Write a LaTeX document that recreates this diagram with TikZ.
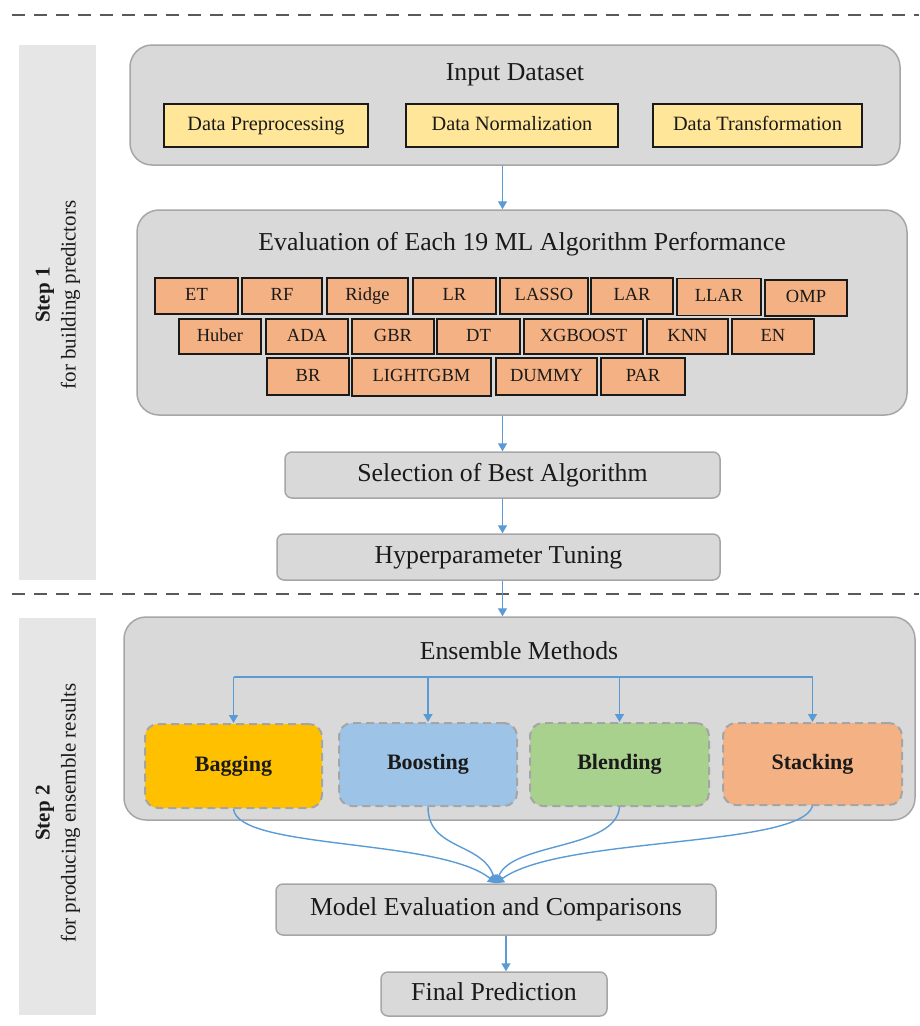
\documentclass[tikz,border=0pt]{standalone}
\usepackage{fontspec}
\setmainfont{Liberation Serif}
\usetikzlibrary{arrows.meta}
\definecolor{band}{HTML}{E7E6E6}
\definecolor{panel}{HTML}{D9D9D9}
\definecolor{panelborder}{HTML}{A6A6A6}
\definecolor{yel}{HTML}{FFE699}
\definecolor{algc}{HTML}{F4B183}
\definecolor{arrc}{HTML}{5B9BD5}
\definecolor{sep}{HTML}{595959}
\definecolor{ink}{HTML}{1A1A1A}
\definecolor{bagc}{HTML}{FFC000}
\definecolor{boostc}{HTML}{9DC3E6}
\definecolor{blendc}{HTML}{A9D18E}
\definecolor{stackc}{HTML}{F4B183}
\definecolor{dashb}{HTML}{A5A5A5}
\tikzset{
  panelbox/.style={draw=panelborder, fill=panel, line width=1.5pt, rounded corners=22pt, inner sep=0pt},
  flowbox/.style={draw=panelborder, fill=panel, line width=1.5pt, rounded corners=7pt, inner sep=0pt, text=ink, font=\fontsize{25.8}{29}\selectfont, text height=17pt, text depth=5pt},
  yelbox/.style={draw=ink, fill=yel, line width=1.3pt, inner sep=0pt, minimum height=43pt, text=ink, font=\fontsize{20.3}{23}\selectfont, text height=13.5pt, text depth=4pt},
  algbox/.style={draw=ink, fill=algc, line width=1.3pt, inner sep=0pt, text=ink, font=\fontsize{18.5}{21}\selectfont, text height=12.5pt, text depth=3.5pt},
  ensbox/.style={draw=dashb, line width=2pt, dash pattern=on 8pt off 5pt, rounded corners=13pt, inner sep=0pt, minimum height=83pt, text=ink, font=\fontsize{22}{25}\selectfont\bfseries, text height=15pt, text depth=4.5pt},
  title/.style={text=ink, font=\fontsize{25.8}{29}\selectfont, inner sep=0pt},
  arr/.style={draw=arrc, line width=1.4pt, -{Triangle[width=9pt,length=8pt]}},
  conn/.style={draw=arrc, line width=1.4pt},
  sepline/.style={draw=sep, line width=2.6pt, dash pattern=on 13pt off 9pt},
  bandbox/.style={fill=band, draw=none},
  steplabel/.style={rotate=90, align=center, text=ink, font=\fontsize{21}{26}\selectfont, inner sep=0pt}
}
\begin{document}
\begin{tikzpicture}[x=1pt,y=-1pt]
\useasboundingbox (0,0) rectangle (919,1026);
% separators and bands
\coordinate (sepA) at (12,15);
\coordinate (sepAend) at (919,15);
\coordinate (sepB) at (12,594);
\coordinate (sepBend) at (919,594);
\fill[bandbox] (19,45) rectangle (96,580);
\fill[bandbox] (19,618) rectangle (96,1015);
\node[steplabel] (step1) at (58,295) {\textbf{Step 1}\\for building predictors};
\node[steplabel] (step2) at (58,813) {\textbf{Step 2}\\for producing ensemble results};

% Input dataset
\node[panelbox, minimum width=770pt, minimum height=120pt] (input) at (515,105) {};
\node[title] (inputtitle) at (515,75) {Input Dataset};
\node[yelbox, minimum width=204pt] (prep) at (266,125.5) {Data Preprocessing};
\node[yelbox, minimum width=212pt] (norm) at (512,125.5) {Data Normalization};
\node[yelbox, minimum width=209pt] (trans) at (757.5,125.5) {Data Transformation};

% Evaluation panel
\node[panelbox, minimum width=770pt, minimum height=205pt] (eval) at (522,312.5) {};
\node[title] (evaltitle) at (522,244) {Evaluation of Each 19 ML Algorithm Performance};
% row 1
\node[algbox, minimum width=83pt, minimum height=36pt] (et) at (196.5,296) {ET};
\node[algbox, minimum width=80pt, minimum height=36pt] (rf) at (282,296) {RF};
\node[algbox, minimum width=81pt, minimum height=36pt] (ridge) at (367.5,296) {Ridge};
\node[algbox, minimum width=83pt, minimum height=36pt] (lr) at (454.5,296) {LR};
\node[algbox, minimum width=88pt, minimum height=36pt] (lasso) at (544,296) {LASSO};
\node[algbox, minimum width=82pt, minimum height=36pt] (lar) at (632,296) {LAR};
\node[algbox, minimum width=84pt, minimum height=37pt] (llar) at (719,297) {LLAR};
\node[algbox, minimum width=82pt, minimum height=36pt] (omp) at (806,298) {OMP};
% row 2
\node[algbox, minimum width=82pt, minimum height=35pt] (huber) at (220,336.5) {Huber};
\node[algbox, minimum width=82pt, minimum height=35pt] (ada) at (307,336.5) {ADA};
\node[algbox, minimum width=82pt, minimum height=35pt] (gbr) at (393,336.5) {GBR};
\node[algbox, minimum width=83pt, minimum height=35pt] (dt) at (478.5,336.5) {DT};
\node[algbox, minimum width=119pt, minimum height=35pt] (xgb) at (583.5,336.5) {XGBOOST};
\node[algbox, minimum width=81pt, minimum height=35pt] (knn) at (687.5,336.5) {KNN};
\node[algbox, minimum width=82pt, minimum height=35pt] (en) at (773,336.5) {EN};
% row 3
\node[algbox, minimum width=82pt, minimum height=37pt] (br) at (308,376.5) {BR};
\node[algbox, minimum width=139pt, minimum height=38pt] (lgbm) at (421.5,377) {LIGHTGBM};
\node[algbox, minimum width=101pt, minimum height=37pt] (dummy) at (546.5,376.5) {DUMMY};
\node[algbox, minimum width=84pt, minimum height=37pt] (par) at (643,376.5) {PAR};

% Selection and tuning
\node[flowbox, minimum width=435pt, minimum height=46pt] (sel) at (502.5,475) {Selection of Best Algorithm};
\node[flowbox, minimum width=443pt, minimum height=46pt] (hyper) at (498.5,557) {Hyperparameter Tuning};

% Ensemble panel
\node[panelbox, minimum width=791pt, minimum height=203pt] (ens) at (519.5,718.5) {};
\node[title] (enstitle) at (519,651) {Ensemble Methods};
\node[ensbox, fill=bagc, minimum width=177pt, minimum height=84pt] (bag) at (233.5,766) {Bagging};
\node[ensbox, fill=boostc, minimum width=178pt] (boost) at (428,764.5) {Boosting};
\node[ensbox, fill=blendc, minimum width=179pt] (blend) at (619.5,764.5) {Blending};
\node[ensbox, fill=stackc, minimum width=179pt, minimum height=82pt] (stack) at (812.5,764) {Stacking};

% Model evaluation and final
\node[flowbox, minimum width=440pt, minimum height=51pt] (model) at (496,909.5) {Model Evaluation and Comparisons};
\node[flowbox, minimum width=226pt, minimum height=44pt] (final) at (494,994) {Final Prediction};

% separators
\draw[sepline] (sepA) -- (sepAend);
\draw[sepline] (sepB) -- (sepBend);

% connectors
\draw[arr] (sel.north |- input.south) -- (sel.north |- eval.north);
\draw[arr] (sel.north |- eval.south) -- (sel.north);
\draw[arr] (sel.south) -- (sel.south |- hyper.north);
\draw[arr] (sel.south |- hyper.south) -- (sel.south |- ens.north);
\coordinate (bus) at (0,677);
\draw[conn] (bag.north |- bus) -- (stack.north |- bus);
\draw[arr] (bag.north |- bus) -- (bag.north);
\draw[arr] (boost.north |- bus) -- (boost.north);
\draw[arr] (blend.north |- bus) -- (blend.north);
\draw[arr] (stack.north |- bus) -- (stack.north);
\coordinate (meet) at (model.north);
\draw[arr] (bag.south) .. controls (238,850) and (440,838) .. (meet);
\draw[arr] (boost.south) .. controls (428,850) and (482,842) .. (meet);
\draw[arr] (blend.south) .. controls (616,850) and (512,842) .. (meet);
\draw[arr] (stack.south) .. controls (800,848) and (560,836) .. (meet);
\draw[arr] ([xshift=10pt]model.south) -- ([xshift=10pt]model.south |- final.north);
\end{tikzpicture}
\end{document}
